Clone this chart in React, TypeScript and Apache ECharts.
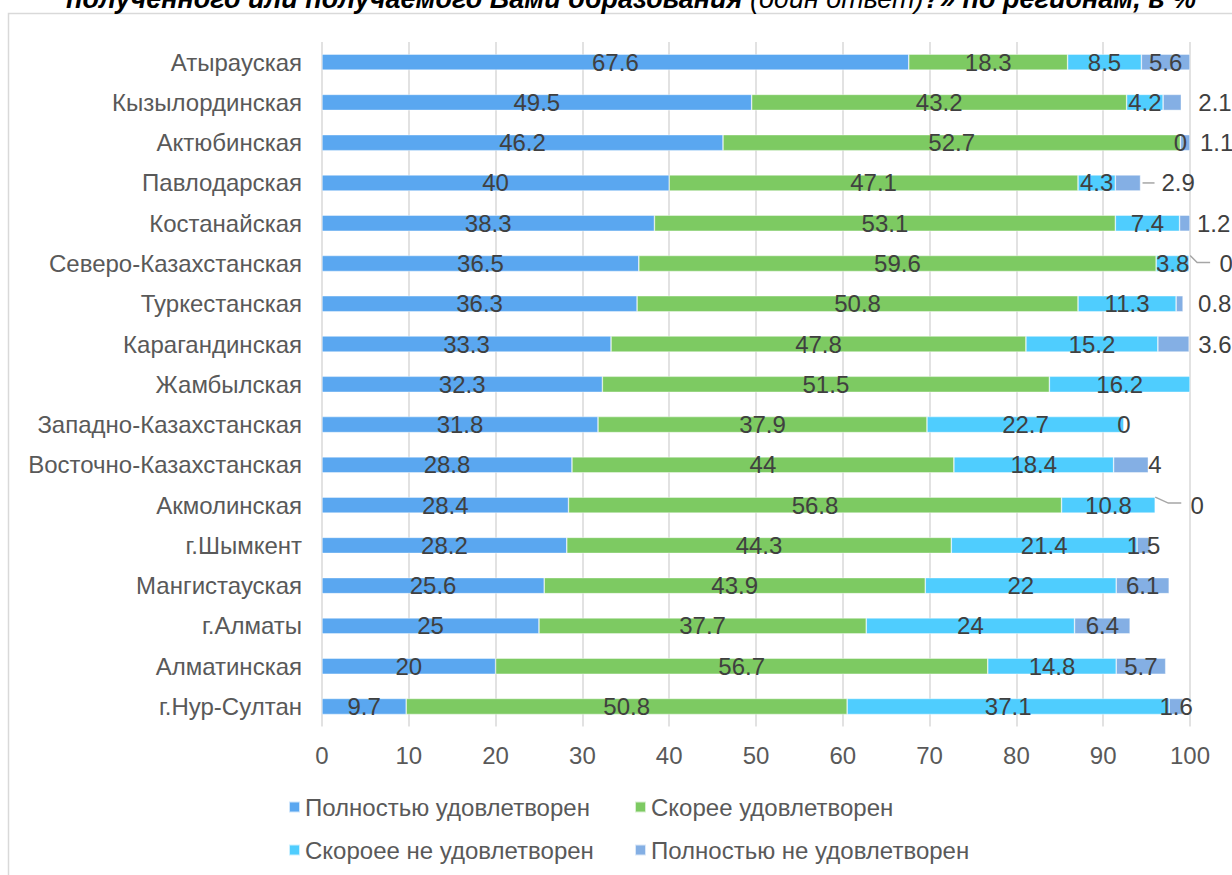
import React, { useEffect, useRef } from "react";
import * as echarts from "echarts";

const categories = [
  "Атырауская",
  "Кызылординская",
  "Актюбинская",
  "Павлодарская",
  "Костанайская",
  "Северо-Казахстанская",
  "Туркестанская",
  "Карагандинская",
  "Жамбылская",
  "Западно-Казахстанская",
  "Восточно-Казахстанская",
  "Акмолинская",
  "г.Шымкент",
  "Мангистауская",
  "г.Алматы",
  "Алматинская",
  "г.Нур-Султан",
];

const seriesNames = [
  "Полностью удовлетворен",
  "Скорее удовлетворен",
  "Скороее не удовлетворен",
  "Полностью не удовлетворен",
];

const fullySatisfied = [67.6, 49.5, 46.2, 40, 38.3, 36.5, 36.3, 33.3, 32.3, 31.8, 28.8, 28.4, 28.2, 25.6, 25, 20, 9.7];
const ratherSatisfied = [18.3, 43.2, 52.7, 47.1, 53.1, 59.6, 50.8, 47.8, 51.5, 37.9, 44, 56.8, 44.3, 43.9, 37.7, 56.7, 50.8];
const ratherNotSatisfied = [8.5, 4.2, 0, 4.3, 7.4, 3.8, 11.3, 15.2, 16.2, 22.7, 18.4, 10.8, 21.4, 22, 24, 14.8, 37.1];
const fullyNotSatisfied: (number | null)[] = [5.6, 2.1, 1.1, 2.9, 1.2, 0, 0.8, 3.6, null, 0, 4, 0, 1.5, 6.1, 6.4, 5.7, 1.6];

const xTicks = { min: 0, max: 100, interval: 10 };

// label placement tweaks (style only) for the last series
const outsideDistance: Record<number, number> = { 1: 17, 2: 10, 3: 21, 4: 7, 5: 30, 6: 15, 7: 9, 10: 0, 11: 35 };
// leader line kinds: 0 = straight, 1 = bent (short), 2 = bent (long)
const leaderLines: Record<number, number> = { 3: 0, 5: 1, 11: 2 };

const colors = ["#5aa7f0", "#7dca62", "#4fcdfe", "#84afe4"];
const FONT = "Liberation Sans, Arial, sans-serif";

export default function App() {
  const ref = useRef<HTMLDivElement>(null);

  useEffect(() => {
    if (!ref.current) return;
    const chart = echarts.init(ref.current, null, { renderer: "svg" });

    const labelBase = {
      show: true,
      position: "inside" as const,
      fontSize: 24,
      color: "#404040",
      fontFamily: FONT,
    };

    const mkSeries = (name: string, values: (number | null)[], idx: number) => ({
      name,
      type: "bar",
      stack: "total",
      barWidth: 16,
      itemStyle: { color: colors[idx], borderColor: "rgba(255,255,255,0.7)", borderWidth: 0.6 },
      label: labelBase,
      data: values.map((v, i) => {
        if (idx === 3 && v != null && outsideDistance[i] != null) {
          return { value: v, label: { position: "right", distance: outsideDistance[i] } };
        }
        return v == null ? "-" : v;
      }),
    });

    const leaderData = Object.keys(leaderLines).map((k) => {
      const i = Number(k);
      const end =
        fullySatisfied[i] + ratherSatisfied[i] + ratherNotSatisfied[i] + (fullyNotSatisfied[i] || 0);
      return [end, i, leaderLines[i]];
    });

    const legendCommon = {
      orient: "horizontal",
      padding: 0,
      itemWidth: 11,
      itemHeight: 11,
      icon: "rect",
      textStyle: { fontSize: 24, color: "#595959", fontFamily: FONT },
    };

    chart.setOption({
      animation: false,
      textStyle: { fontFamily: FONT },
      graphic: [
        {
          type: "rect",
          shape: { x: 8.5, y: 13.5, width: 1400, height: 1000 },
          style: { fill: "none", stroke: "#d9d9d9", lineWidth: 1.5 },
          silent: true,
        },
        {
          type: "text",
          x: 631,
          y: -1,
          style: {
            text: "{b|полученного или получаемого Вами образования }{n|(один ответ)}{b|?» по регионам, в %}",
            align: "center",
            verticalAlign: "middle",
            rich: {
              b: { fontSize: 27, fontWeight: "bold", fontStyle: "italic", fill: "#000", fontFamily: FONT },
              n: { fontSize: 27, fontWeight: "normal", fontStyle: "italic", fill: "#000", fontFamily: FONT },
            },
          },
        },
      ],
      grid: { left: 322, right: 42, top: 42, bottom: 148.4, containLabel: false },
      xAxis: {
        type: "value",
        min: xTicks.min,
        max: xTicks.max,
        interval: xTicks.interval,
        axisLine: { show: false },
        axisTick: { show: false },
        splitLine: { show: true, lineStyle: { color: "#d9d9d9", width: 1.5 } },
        axisLabel: { fontSize: 24, color: "#595959", margin: 17 },
      },
      yAxis: {
        type: "category",
        data: categories,
        inverse: true,
        axisLine: { show: false },
        axisTick: { show: false },
        axisLabel: { fontSize: 24, color: "#595959", margin: 20 },
      },
      legend: [
        { ...legendCommon, data: [seriesNames[0]], left: 288, top: 795 },
        { ...legendCommon, data: [seriesNames[1]], left: 634, top: 795 },
        { ...legendCommon, data: [seriesNames[2]], left: 288, top: 838 },
        { ...legendCommon, data: [seriesNames[3]], left: 634, top: 838 },
      ],
      series: [
        mkSeries(seriesNames[0], fullySatisfied, 0),
        mkSeries(seriesNames[1], ratherSatisfied, 1),
        mkSeries(seriesNames[2], ratherNotSatisfied, 2),
        mkSeries(seriesNames[3], fullyNotSatisfied, 3),
        {
          type: "custom",
          name: "leader",
          silent: true,
          z: 5,
          encode: { x: 0, y: 1 },
          data: leaderData,
          renderItem: (params: any, api: any) => {
            const pt = api.coord([api.value(0), api.value(1)]);
            const kind = api.value(2);
            const x = pt[0];
            const y = pt[1];
            let points: number[][];
            if (kind === 0) points = [[x + 2, y], [x + 14, y]];
            else if (kind === 1) points = [[x + 1, y - 8], [x + 8, y - 1], [x + 21, y - 1]];
            else points = [[x, y - 8], [x + 13, y - 2], [x + 26, y - 2]];
            return {
              type: "polyline",
              shape: { points },
              style: { stroke: "#a6a6a6", lineWidth: 1.5, fill: "none" },
            };
          },
        },
      ],
    });

    return () => chart.dispose();
  }, []);

  return (
    <div
      ref={ref}
      style={{ position: "fixed", left: 0, top: 0, width: 1232, height: 875, background: "#fff" }}
    />
  );
}
